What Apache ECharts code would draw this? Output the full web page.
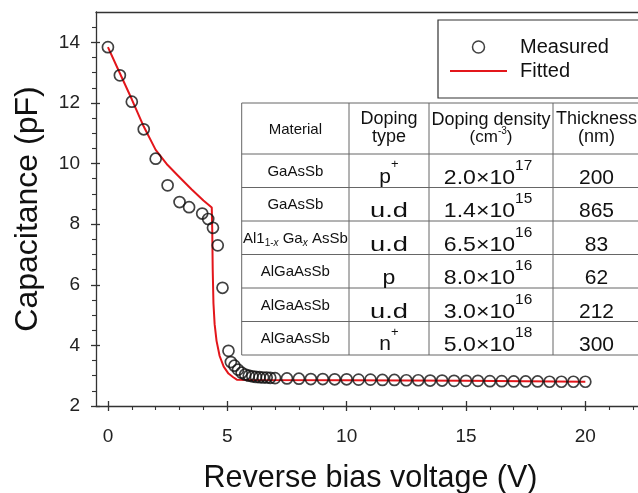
<!DOCTYPE html>
<html>
<head>
<meta charset="utf-8">
<script src="https://cdn.jsdelivr.net/npm/echarts@6/dist/echarts.min.js"></script>
<style>html,body{margin:0;padding:0;background:#fff}#c{width:638px;height:493px}</style>
</head>
<body>
<div id="c"></div>
<script>
// ---- data ----
const measuredV = [0, 0.5, 1.0, 1.5, 2.0, 2.5, 3.0, 3.4, 3.95, 4.2, 4.4, 4.6, 4.8,
  5.05, 5.15, 5.3, 5.45, 5.6, 5.75, 5.9, 6.05, 6.2, 6.35, 6.5, 6.65, 6.8,
  7.0, 7.5, 8.0, 8.5, 9.0, 9.5, 10.0, 10.5, 11.0, 11.5, 12.0, 12.5, 13.0, 13.5,
  14.0, 14.5, 15.0, 15.5, 16.0, 16.5, 17.0, 17.5, 18.0, 18.5, 19.0, 19.5, 20.0];
const measuredC = [13.84, 12.91, 12.04, 11.13, 10.16, 9.28, 8.73, 8.56, 8.35, 8.17, 7.88, 7.30, 5.90,
  3.82, 3.45, 3.33, 3.20, 3.10, 3.04, 3.00, 2.98, 2.96, 2.95, 2.94, 2.94, 2.93,
  2.92, 2.91, 2.90, 2.89, 2.89, 2.88, 2.88, 2.87, 2.87, 2.86, 2.86, 2.85, 2.85, 2.84,
  2.84, 2.83, 2.83, 2.83, 2.82, 2.82, 2.81, 2.81, 2.81, 2.80, 2.80, 2.80, 2.80];
const fittedV = [0, 0.5, 1.0, 1.5, 2.0, 2.5, 3.0, 3.5, 4.0, 4.35, 4.37, 4.39, 4.42, 4.47, 4.55, 4.68, 4.85, 5.05, 5.25, 5.4, 6.0, 10.0, 15.0, 20.0];
const fittedC = [13.84, 12.98, 12.12, 11.22, 10.45, 9.95, 9.55, 9.15, 8.78, 8.55, 7.8, 6.5, 5.4, 4.7, 4.15, 3.65, 3.3, 3.07, 2.95, 2.87, 2.86, 2.85, 2.83, 2.80];
const xTicks = [0, 5, 10, 15, 20];
const xMinor = [1, 2, 3, 4, 6, 7, 8, 9, 11, 12, 13, 14, 16, 17, 18, 19, 21, 22];
const yTicks = [2, 4, 6, 8, 10, 12, 14];
const yMinor = [2.5, 3, 3.5, 4.5, 5, 5.5, 6.5, 7, 7.5, 8.5, 9, 9.5, 10.5, 11, 11.5, 12.5, 13, 13.5, 14.5];
const seriesNames = ['Measured', 'Fitted'];

// table contents
const tblMaterial = ['GaAsSb', 'GaAsSb', 'AL1X', 'AlGaAsSb', 'AlGaAsSb', 'AlGaAsSb'];
const tblTypeBase = ['p', 'u.d', 'u.d', 'p', 'u.d', 'n'];
const tblTypeSup = ['+', '', '', '', '', '+'];
const tblDensMant = ['2.0', '1.4', '6.5', '8.0', '3.0', '5.0'];
const tblDensExp = ['17', '15', '16', '16', '16', '18'];
const tblThick = ['200', '865', '83', '62', '212', '300'];

// ---- layout ----
const FONT = 'Arial, "Liberation Sans", Helvetica, sans-serif';
const colX = [241.7, 349, 429, 553, 640];
const rowY = [103, 154, 187.5, 221, 254.5, 288, 321.5, 355];
const lineCol = '#666';
const mctx = document.createElement('canvas').getContext('2d');
function tw(text, size, style) { mctx.font = (style || 'normal') + ' ' + size + 'px ' + FONT; return mctx.measureText(text).width; }

const graphics = [];
graphics.push({type: 'rect', shape: {x: colX[0], y: rowY[0], width: colX[4] - colX[0], height: rowY[7] - rowY[0]},
  style: {fill: '#fff', stroke: lineCol, lineWidth: 1}, z: 10});
for (let i = 1; i < rowY.length - 1; i++) {
  graphics.push({type: 'line', shape: {x1: colX[0], y1: rowY[i], x2: colX[4], y2: rowY[i]}, style: {stroke: lineCol, lineWidth: 1}, z: 11});
}
for (let j = 1; j < colX.length - 1; j++) {
  graphics.push({type: 'line', shape: {x1: colX[j], y1: rowY[0], x2: colX[j], y2: rowY[7]}, style: {stroke: lineCol, lineWidth: 1}, z: 11});
}
const cx = j => (colX[j] + colX[j + 1]) / 2;
const cy = i => (rowY[i] + rowY[i + 1]) / 2;
function txt(x, y, text, size, opts) {
  opts = opts || {};
  graphics.push({type: 'text', z: 12, x: x, y: y, scaleX: opts.sx || 1,
    style: {x: 0, y: 0, text: text, textAlign: opts.align || 'center', textVerticalAlign: 'middle',
      fill: '#111', fontFamily: FONT, fontSize: size, fontStyle: opts.italic ? 'italic' : 'normal', lineHeight: opts.lh}});
}
// a run of pieces [text, size, dy, italic] laid out left to right, centred at x
function run(x, y, pieces, sx) {
  sx = sx || 1;
  const widths = pieces.map(p => tw(p[0], p[1], p[3] ? 'italic' : 'normal') * sx);
  let x0 = x - widths.reduce((a, b) => a + b, 0) / 2;
  pieces.forEach((p, k) => {
    txt(x0, y + p[2], p[0], p[1], {align: 'left', sx: sx, italic: p[3]});
    x0 += widths[k];
  });
}
// header
txt(cx(0), cy(0) + 1, 'Material', 15);
txt(cx(1), cy(0), 'Doping\ntype', 18, {lh: 18});
txt(cx(2), cy(0) - 8.5, 'Doping density', 18);
run(cx(2), cy(0) + 9, [['(cm', 17, 0], ['-3', 10, -6], [')', 17, 0]]);
txt(cx(3), cy(0), 'Thickness\n(nm)', 18, {lh: 18});
for (let i = 0; i < tblMaterial.length; i++) {
  const y = cy(i + 1);
  if (tblMaterial[i] === 'AL1X') {
    run(cx(0), y + 1, [['Al1', 15, 0], ['1-', 10, 4], ['x', 10, 4, true], [' Ga', 15, 0], ['x', 10, 4, true], [' AsSb', 15, 0]]);
  } else {
    txt(cx(0), y + 1, tblMaterial[i], 15);
  }
  if (tblTypeSup[i]) {
    run(cx(1), y + 6, [[tblTypeBase[i], 21, 0], [tblTypeSup[i], 13, -12]]);
  } else {
    txt(cx(1), y + 7, tblTypeBase[i], 21, {sx: tblTypeBase[i].length > 1 ? 1.3 : 1.1});
  }
  run(cx(2) - 3, y + 7, [[tblDensMant[i] + '×10', 21, 0], [tblDensExp[i], 14, -12]], 1.1);
  txt(cx(3), y + 7, tblThick[i], 21);
}

const chart = echarts.init(document.getElementById('c'), null, {renderer: 'canvas'});
const axisCol = '#333';
const baseX = {type: 'value', min: -0.5, max: 22.5, position: 'bottom', splitLine: {show: false}};
const baseY = {type: 'value', min: 2, max: 15, position: 'left', splitLine: {show: false}};
chart.setOption({
  animation: false,
  backgroundColor: '#fff',
  grid: {left: 96, right: -7, top: 12, bottom: 87, containLabel: false, outerBoundsMode: 'none'},
  xAxis: [
    Object.assign({}, baseX, {
      axisLine: {show: true, onZero: false, lineStyle: {color: axisCol, width: 1.3}},
      axisTick: {show: true, customValues: xTicks, length: 5, lineStyle: {color: axisCol, width: 1.3}},
      axisLabel: {show: true, customValues: xTicks, fontSize: 19, color: '#222', fontFamily: FONT, margin: 21},
      name: 'Reverse bias voltage (V)', nameLocation: 'middle', nameGap: 57,
      nameTextStyle: {fontSize: 30.5, color: '#111', fontFamily: FONT}
    }),
    Object.assign({}, baseX, {
      axisLine: {show: false, onZero: false},
      axisTick: {show: true, inside: true, customValues: xTicks, length: 5, lineStyle: {color: axisCol, width: 1.3}},
      axisLabel: {show: false}
    }),
    Object.assign({}, baseX, {
      axisLine: {show: false, onZero: false},
      axisTick: {show: true, customValues: xMinor, length: 4, lineStyle: {color: axisCol, width: 1.1}},
      axisLabel: {show: false}
    }),
    Object.assign({}, baseX, {
      position: 'top',
      axisLine: {show: true, onZero: false, lineStyle: {color: axisCol, width: 1.3}},
      axisTick: {show: false}, axisLabel: {show: false}
    })
  ],
  yAxis: [
    Object.assign({}, baseY, {
      axisLine: {show: true, onZero: false, lineStyle: {color: axisCol, width: 1.3}},
      axisTick: {show: true, customValues: yTicks, length: 5, lineStyle: {color: axisCol, width: 1.3}},
      axisLabel: {show: true, customValues: yTicks, fontSize: 19, color: '#222', fontFamily: FONT, margin: 16},
      name: 'Capacitance (pF)', nameLocation: 'middle', nameGap: 52,
      nameTextStyle: {fontSize: 32, color: '#111', fontFamily: FONT}
    }),
    Object.assign({}, baseY, {
      axisLine: {show: false, onZero: false},
      axisTick: {show: true, inside: true, customValues: yTicks, length: 4, lineStyle: {color: axisCol, width: 1.3}},
      axisLabel: {show: false}
    }),
    Object.assign({}, baseY, {
      axisLine: {show: false, onZero: false},
      axisTick: {show: true, customValues: yMinor, length: 4, lineStyle: {color: axisCol, width: 1.1}},
      axisLabel: {show: false}
    })
  ],
  legend: {
    orient: 'vertical', left: 438, top: 20,
    padding: [16, 60, 16, 12], itemGap: 2, itemWidth: 57, itemHeight: 12,
    borderColor: '#333', borderWidth: 1.2, backgroundColor: '#fff',
    textStyle: {fontSize: 20, lineHeight: 22, color: '#111', fontFamily: FONT, padding: [0, 0, 0, 8]},
    data: [
      {name: seriesNames[0], icon: 'circle', itemStyle: {color: 'rgba(0,0,0,0)', borderColor: '#111', borderWidth: 1.5}},
      {name: seriesNames[1], icon: 'path://M0,0H57V2H0Z', itemStyle: {color: '#e3161b', borderWidth: 0}}
    ]
  },
  series: [
    {
      name: seriesNames[1], type: 'line', xAxisIndex: 0, yAxisIndex: 0,
      data: fittedV.map((v, i) => [v, fittedC[i]]),
      showSymbol: false, symbol: 'none', smooth: false,
      lineStyle: {color: '#e3161b', width: 2}, itemStyle: {color: '#e3161b'}, z: 2
    },
    {
      name: seriesNames[0], type: 'scatter', xAxisIndex: 0, yAxisIndex: 0,
      data: measuredV.map((v, i) => [v, measuredC[i]]),
      symbol: 'circle', symbolSize: 11,
      itemStyle: {color: 'rgba(0,0,0,0)', borderColor: '#111', borderWidth: 1.7}, z: 3
    }
  ],
  graphic: graphics
});
</script>
</body>
</html>
